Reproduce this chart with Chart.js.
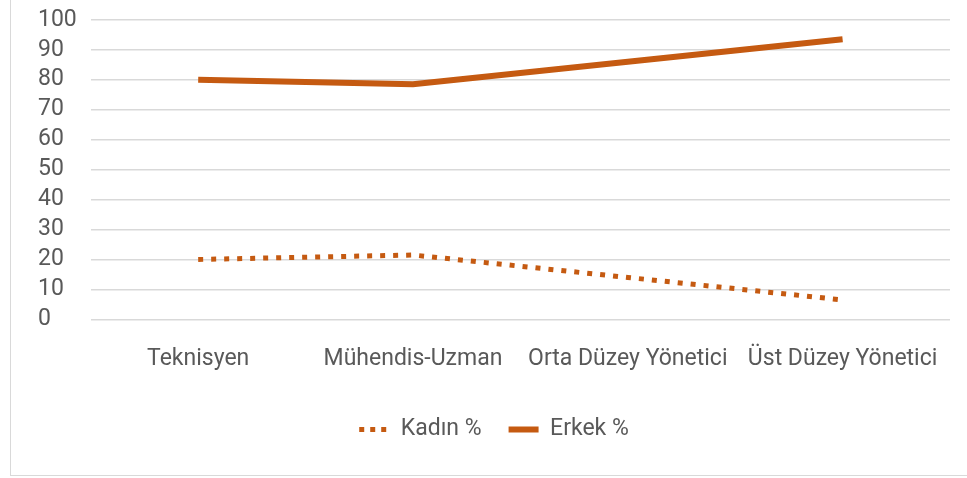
<!DOCTYPE html>
<html>
<head>
<meta charset="utf-8">
<script src="https://cdn.jsdelivr.net/npm/chart.js@4.4.1/dist/chart.umd.min.js"></script>
<style>
  html, body { margin: 0; padding: 0; background: #fff; }
  #frame {
    position: absolute; left: 10px; top: -2px; width: 970px; height: 478px;
    border: 1px solid #d9d9d9; box-sizing: border-box;
  }
  #wrap { position: absolute; left: 0; top: 0; width: 957px; height: 476px; }
</style>
</head>
<body>
<div id="frame"><div id="wrap"><canvas id="lineChart"></canvas></div></div>
<script>
const categories = ['Teknisyen', 'Mühendis-Uzman', 'Orta Düzey Yönetici', 'Üst Düzey Yönetici'];
const kadin = [20, 21.5, 14, 6.5];
const erkek = [80, 78.5, 86, 93.5];
const yTicks = [0, 10, 20, 30, 40, 50, 60, 70, 80, 90, 100];

const ORANGE = '#c55a11';
const TEXT   = '#595959';
const GRID   = '#d9d9d9';

Chart.defaults.font.family = "Roboto, 'Liberation Sans', sans-serif";
Chart.defaults.font.size = 23;
Chart.defaults.color = TEXT;

// legend keeps the dotted look of the Kadın line
const baseLabels = Chart.defaults.plugins.legend.labels.generateLabels;

new Chart(document.getElementById('lineChart'), {
    type: 'line',
    data: {
        labels: categories,
        datasets: [
            {
                label: 'Kadın %',
                data: kadin,
                borderColor: ORANGE,
                backgroundColor: ORANGE,
                borderWidth: 5,
                borderDash: [5, 8],
                borderCapStyle: 'butt',
                pointRadius: 0,
                tension: 0
            },
            {
                label: 'Erkek %',
                data: erkek,
                borderColor: ORANGE,
                backgroundColor: ORANGE,
                borderWidth: 6,
                borderCapStyle: 'butt',
                pointRadius: 0,
                tension: 0
            }
        ]
    },
    options: {
        responsive: true,
        maintainAspectRatio: false,
        animation: false,
        layout: { padding: { left: 27, right: 18, top: 3, bottom: 24 } },
        plugins: {
            tooltip: { enabled: false },
            legend: {
                position: 'bottom',
                labels: {
                    usePointStyle: true,
                    pointStyle: 'line',
                    pointStyleWidth: 30,
                    boxHeight: 6,
                    padding: 27,
                    color: TEXT,
                    generateLabels: chart => baseLabels(chart).map((item, i) => ({
                        ...item,
                        pointStyle: 'line',
                        lineDash: i === 0 ? [5, 6] : [],
                        lineWidth: i === 0 ? 5 : 6
                    }))
                }
            }
        },
        scales: {
            x: {
                offset: true,
                grid: { display: false },
                border: { display: false },
                ticks: { padding: 18, maxRotation: 0, autoSkip: false, color: TEXT }
            },
            y: {
                min: 0,
                max: 100,
                afterBuildTicks: axis => { axis.ticks = yTicks.map(v => ({ value: v })); },
                grid: { color: GRID, lineWidth: 1.5, drawTicks: false },
                border: { display: false },
                ticks: { padding: 7, autoSkip: false, crossAlign: 'far', color: TEXT }
            }
        }
    }
});
</script>
</body>
</html>
